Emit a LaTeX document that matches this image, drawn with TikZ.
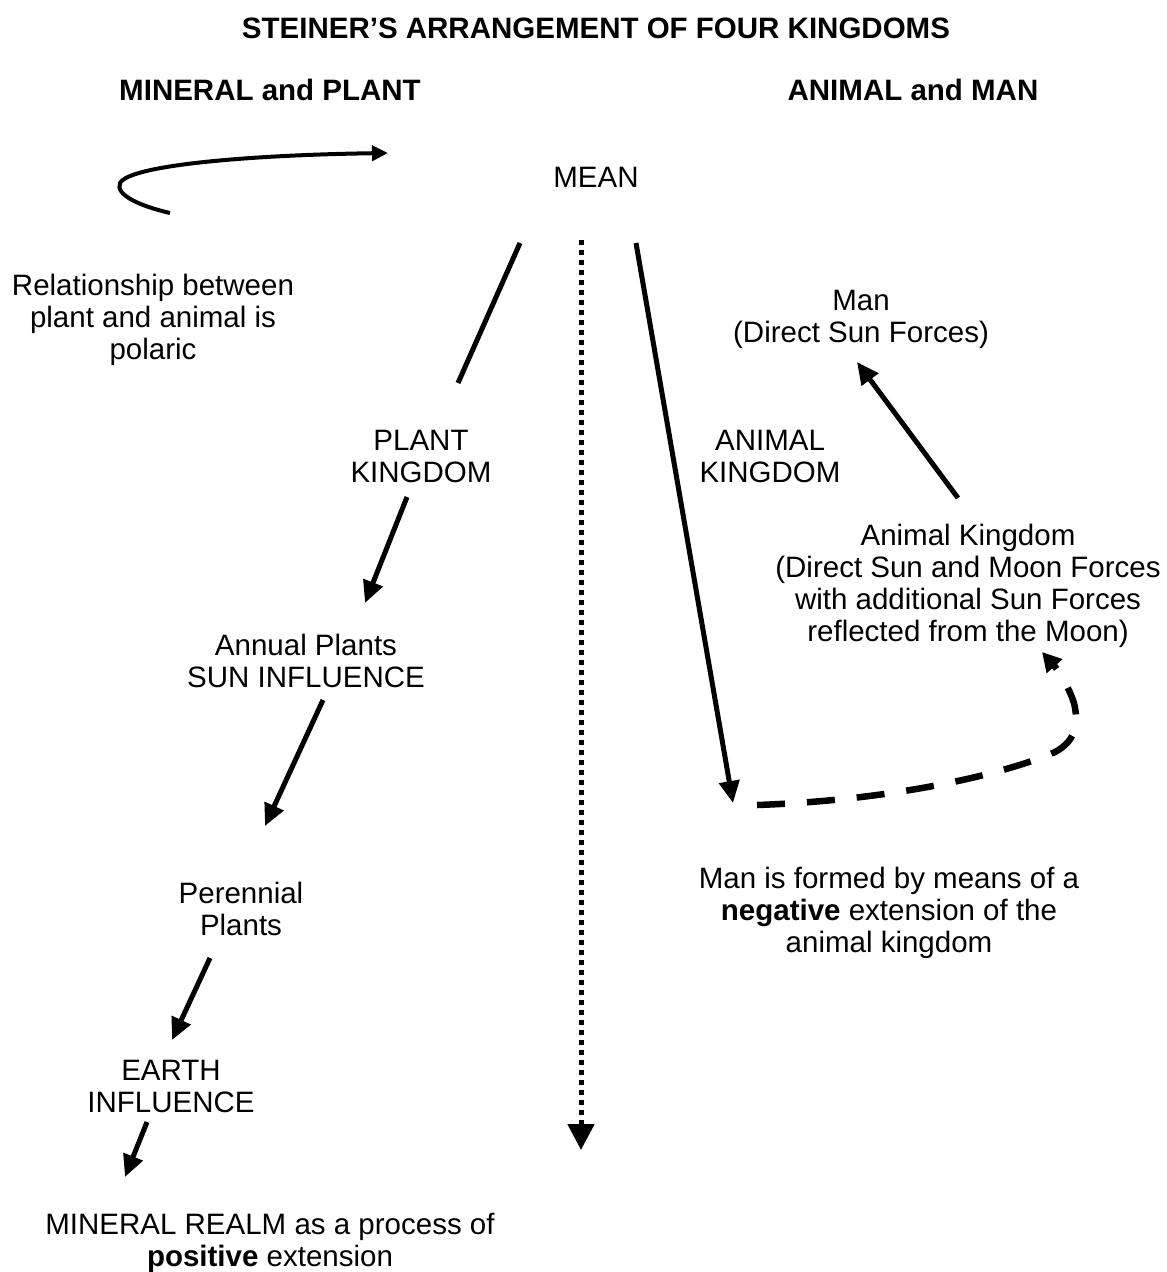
\documentclass[tikz,border=0pt]{standalone}
\usepackage{fontspec}
\setmainfont{Liberation Sans}
\usetikzlibrary{arrows.meta}
\begin{document}
\begin{tikzpicture}[x=1pt,y=-1pt,
  lbl/.style={font=\fontsize{29.5}{32}\selectfont, align=center, inner sep=0pt},
  hdr/.style={lbl, font=\fontsize{29.5}{32}\selectfont\bfseries},
  conn/.style={line width=5pt},
  arr/.style={conn, -{Triangle[length=22pt,width=20pt]}},
  dotline/.style={line width=5pt, dash pattern=on 5pt off 5pt, -{Triangle[length=26pt,width=26pt]}},
  dashline/.style={line width=6.5pt, dash pattern=on 28pt off 22pt, -{Triangle[length=19pt,width=20pt]}},
  hook/.style={line width=4pt, -{Triangle[length=16pt,width=15pt]}}
]
\useasboundingbox (0,0) rectangle (1167,1272);

% headings
\node[hdr] (title) at (596,28) {STEINER’S ARRANGEMENT OF FOUR KINGDOMS};
\node[hdr] (lefthead) at (270,90) {MINERAL and PLANT};
\node[hdr] (righthead) at (913,90) {ANIMAL and MAN};

% labels
\node[lbl] (mean) at (596,177) {MEAN};
\node[lbl] (rel) at (153,320) {Relationship between\\plant and animal is\\polaric};
\node[lbl] (plant) at (421,456) {PLANT\\KINGDOM};
\node[lbl] (annual) at (306,661) {Annual Plants\\SUN INFLUENCE};
\node[lbl] (perennial) at (241,909) {Perennial\\Plants};
\node[lbl] (earth) at (171,1086) {EARTH\\INFLUENCE};
\node[lbl] (mineral) at (270,1243) {MINERAL REALM as a process of\\\textbf{positive} extension};
\node[lbl] (animal) at (770,456) {ANIMAL\\KINGDOM};
\node[lbl] (man) at (861,319) {Man\\(Direct Sun Forces)};
\node[lbl] (animalk) at (968,586) {Animal Kingdom\\(Direct Sun and Moon Forces\\with additional Sun Forces\\reflected from the Moon)};
\node[lbl] (neg) at (889,913) {Man is formed by means of a\\\textbf{negative} extension of the\\animal kingdom};

% connector end points
\coordinate (hookS) at (170,213);
\coordinate (hookE) at (388,153);
\coordinate (m1) at (520,243);
\coordinate (p1) at (458,383);
\coordinate (p2) at (407,497);
\coordinate (a1) at (365,603);
\coordinate (a2) at (323,700);
\coordinate (r1) at (265,826);
\coordinate (r2) at (210,958);
\coordinate (e1) at (172,1040);
\coordinate (e2) at (147,1122);
\coordinate (n1) at (125,1177);
\coordinate (d1) at (581,240);
\coordinate (d2) at (581,1150);
\coordinate (k1) at (636,243);
\coordinate (k2) at (733,803);
\coordinate (s1) at (757,805);
\coordinate (s2) at (1042,652);
\coordinate (ak1) at (958,498);
\coordinate (mn1) at (857,362);

% hook arrow
\draw[hook] (hookS) .. controls (140,206) and (115,195) .. (120,183)
  .. controls (130,165) and (250,155) .. (hookE);

% left chain
\draw[conn] (m1) -- (p1);
\draw[arr] (p2) -- (a1);
\draw[arr] (a2) -- (r1);
\draw[arr] (r2) -- (e1);
\draw[arr] (e2) -- (n1);

% dotted middle
\draw[dotline] (d1) -- (d2);

% right side
\draw[arr] (k1) -- (k2);
\draw[dashline] (s1) .. controls (900,800) and (1010,772) .. (1055,752)
  .. controls (1078,740) and (1078,720) .. (1074,703)
  .. controls (1068,685) and (1058,670) .. (s2);
\draw[arr] (ak1) -- (mn1);
\end{tikzpicture}
\end{document}
